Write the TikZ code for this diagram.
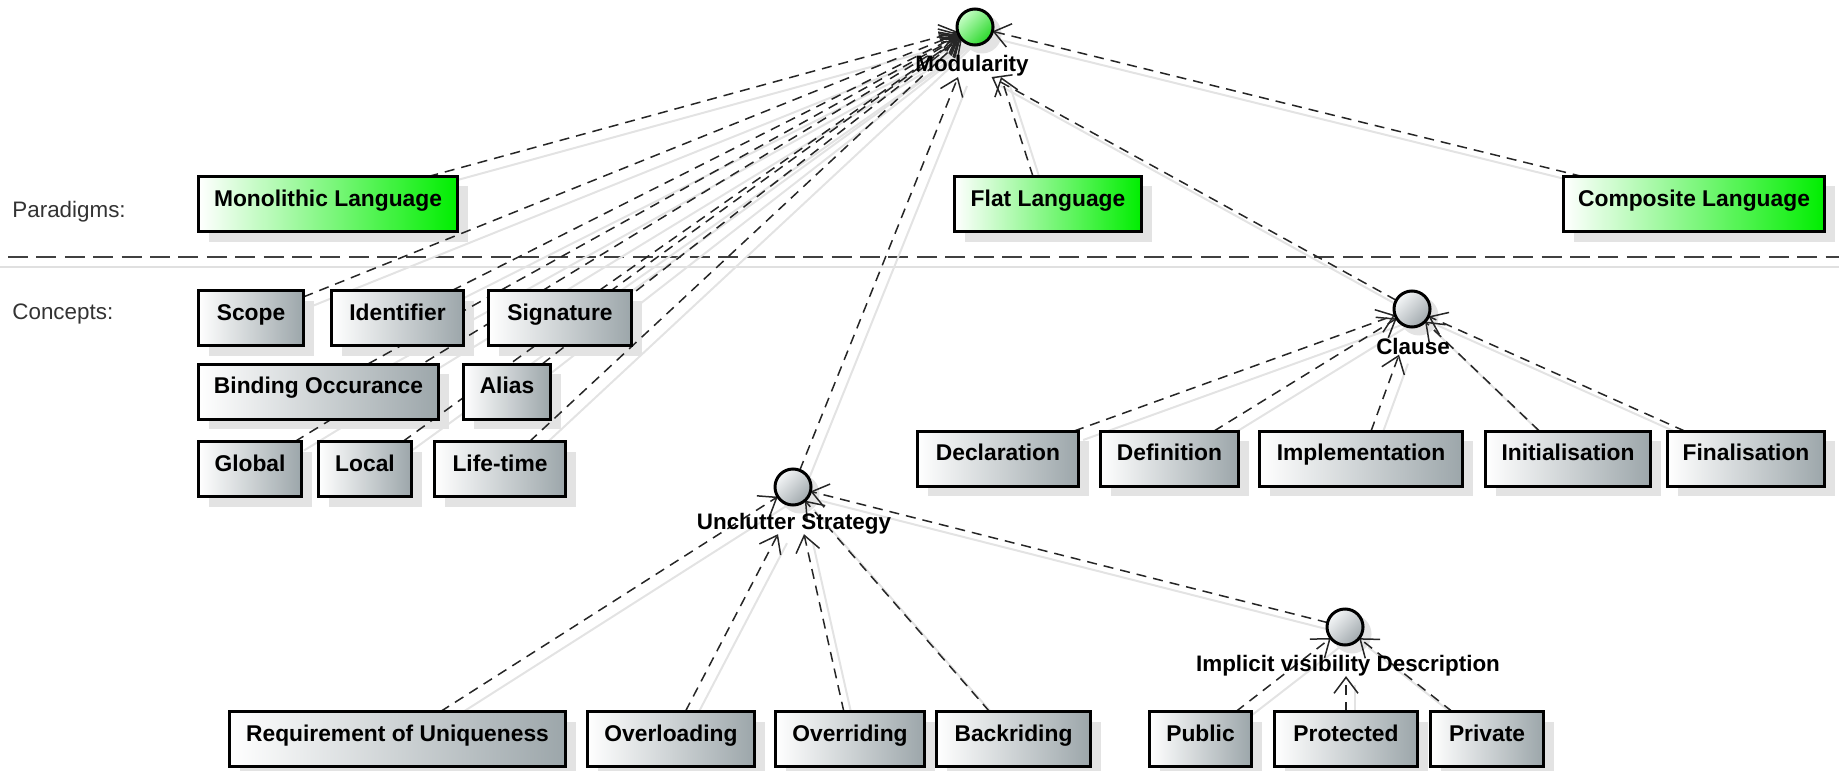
\documentclass[tikz,border=0pt]{standalone}
\usepackage{fontspec}
\setmainfont{Liberation Sans}
\usetikzlibrary{arrows.meta}
\pgfdeclarelayer{back}
\pgfdeclarelayer{edges}
\pgfsetlayers{back,edges,main}
\definecolor{boxgray}{RGB}{156,166,170}
\definecolor{gboxend}{RGB}{0,238,0}
\definecolor{ballhi}{RGB}{200,255,200}
\definecolor{balllo}{RGB}{40,215,40}
\definecolor{grayhi}{RGB}{245,247,248}
\definecolor{graylo}{RGB}{160,168,172}
\newcommand\depline[2]{%
  \begin{pgfonlayer}{back}\begin{scope}[transform canvas={shift={(4.5pt,-4.5pt)}}]\draw[eshadow] #1 -- #2;\end{scope}\end{pgfonlayer}%
  \begin{pgfonlayer}{edges}\draw[dep] #1 -- #2;\end{pgfonlayer}}
\begin{document}
\begin{tikzpicture}[x=0.5pt,y=-0.5pt,
  basebox/.style={draw=black, line width=1.5pt, inner sep=0pt, outer sep=0pt,
    minimum height=27.5pt, text height=8.5pt, text depth=6.3pt,
    font=\fontsize{11.4pt}{13pt}\selectfont\bfseries},
  gbox/.style={basebox, left color=white, right color=gboxend},
  cbox/.style={basebox, left color=white, right color=boxgray},
  basecirc/.style={circle, draw=black, line width=1.5pt, minimum size=18pt, inner sep=0pt, outer sep=0pt},
  greencirc/.style={basecirc, top color=ballhi, bottom color=balllo, shading angle=45},
  graycirc/.style={basecirc, top color=grayhi, bottom color=graylo, shading angle=45},
  clabel/.style={inner sep=0pt, anchor=base, font=\fontsize{11.2pt}{13pt}\selectfont\bfseries},
  sidelabel/.style={inner sep=0pt, anchor=base west, text=black!80, font=\fontsize{11.2pt}{13pt}\selectfont},
  dep/.style={draw=black!85, line width=0.75pt, dash pattern=on 5pt off 3.5pt,
    -{Straight Barb[length=8pt,width=12pt]}},
  eshadow/.style={draw=black!11, line width=1pt},
  shadowfill/.style={fill=black!11}
]
\useasboundingbox (0,0) rectangle (1839,770);

% separator
\begin{pgfonlayer}{back}
\draw[black!75, line width=1pt, dash pattern=on 10pt off 4.2pt] (8,257) -- (1839,257);
\draw[black!12, line width=1pt] (0,267) -- (1839,267);
\end{pgfonlayer}

\node[sidelabel] (parl) at (12,218) {Paradigms:};
\node[sidelabel] (conl) at (12,319) {Concepts:};

% circles and their labels
\node[greencirc] (mod) at (975,27) {};
\node[clabel] (modl) at (972,72) {Modularity};
\node[graycirc] (clause) at (1412,309) {};
\node[clabel] (clausel) at (1413,354) {Clause};
\node[graycirc] (uncl) at (793,487) {};
\node[clabel] (uncll) at (794,529) {Unclutter Strategy};
\node[graycirc] (impl) at (1345,627) {};
\node[clabel] (impll) at (1348,671) {Implicit visibility Description};

% paradigm boxes
\node[gbox, minimum width=129.5pt] (mono) at (328,204) {Monolithic Language};
\node[gbox, minimum width=93.5pt] (flat) at (1048,204) {Flat Language};
\node[gbox, minimum width=130.5pt] (comp) at (1694,204) {Composite Language};

% concept boxes
\node[cbox, minimum width=52.5pt] (scope) at (251,318) {Scope};
\node[cbox, minimum width=66pt] (ident) at (397.5,318) {Identifier};
\node[cbox, minimum width=71.5pt] (sig) at (560,318) {Signature};
\node[cbox, minimum width=120pt] (bind) at (318.5,391.5) {Binding Occurance};
\node[cbox, minimum width=43.5pt] (alias) at (507,391.5) {Alias};
\node[cbox, minimum width=51.5pt] (glob) at (250,469) {Global};
\node[cbox, minimum width=46.5pt] (loc) at (365,469) {Local};
\node[cbox, minimum width=65.5pt] (life) at (500,469) {Life-time};

\node[cbox, minimum width=80.5pt] (decl) at (998,458.5) {Declaration};
\node[cbox, minimum width=69pt] (defn) at (1169.5,458.5) {Definition};
\node[cbox, minimum width=101.5pt] (implem) at (1361,458.5) {Implementation};
\node[cbox, minimum width=82.5pt] (init) at (1568,458.5) {Initialisation};
\node[cbox, minimum width=78.5pt] (fin) at (1746,458.5) {Finalisation};

\node[cbox, minimum width=168pt] (req) at (397.5,739) {Requirement of Uniqueness};
\node[cbox, minimum width=83.5pt] (overl) at (671,739) {Overloading};
\node[cbox, minimum width=74.5pt] (overr) at (850,739) {Overriding};
\node[cbox, minimum width=77pt] (backr) at (1013.5,739) {Backriding};
\node[cbox, minimum width=51pt] (pub) at (1200.5,739) {Public};
\node[cbox, minimum width=71.5pt] (prot) at (1346,739) {Protected};
\node[cbox, minimum width=56.5pt] (priv) at (1487,739) {Private};

% node shadows
\begin{pgfonlayer}{back}
\foreach \n in {mono,flat,comp,scope,ident,sig,bind,alias,glob,loc,life,decl,defn,implem,init,fin,req,overl,overr,backr,pub,prot,priv}
  \fill[shadowfill] ([shift={(5pt,-5pt)}]\n.north west) rectangle ([shift={(5pt,-5pt)}]\n.south east);
\foreach \n in {mod,clause,uncl,impl}
  \fill[shadowfill] ([shift={(3.5pt,-3.5pt)}]\n.center) circle (9.75pt);
\end{pgfonlayer}

% dependencies to Modularity
\depline{(mono)}{(mod)}
\depline{([xshift=-7.5pt]flat.north)}{([xshift=-14pt]modl.south east)}
\depline{(comp)}{(mod)}
\depline{(scope)}{(mod)}
\depline{(ident)}{(mod)}
\depline{(sig)}{(mod)}
\depline{(bind)}{(mod)}
\depline{(alias)}{(mod)}
\depline{(glob)}{(mod)}
\depline{(loc)}{(mod)}
\depline{(life)}{(mod)}
\depline{(uncl)}{([xshift=-7pt]modl.south)}
\depline{(clause)}{(modl)}

% dependencies to Clause
\depline{(decl)}{(clause)}
\depline{(defn)}{(clause)}
\depline{(implem)}{([xshift=-7pt]clausel.south)}
\depline{(init)}{(clause)}
\depline{(fin)}{(clause)}

% dependencies to Unclutter Strategy
\depline{(req)}{(uncl)}
\depline{(overl)}{([xshift=-8pt]uncll.south)}
\depline{(overr)}{([xshift=5pt]uncll.south)}
\depline{(backr)}{(uncl)}
\depline{(impl)}{(uncl)}

% dependencies to Implicit visibility Description
\depline{(pub)}{(impl)}
\depline{(prot)}{([xshift=-1pt]impll.south)}
\depline{(priv)}{(impl)}
\end{tikzpicture}
\end{document}
